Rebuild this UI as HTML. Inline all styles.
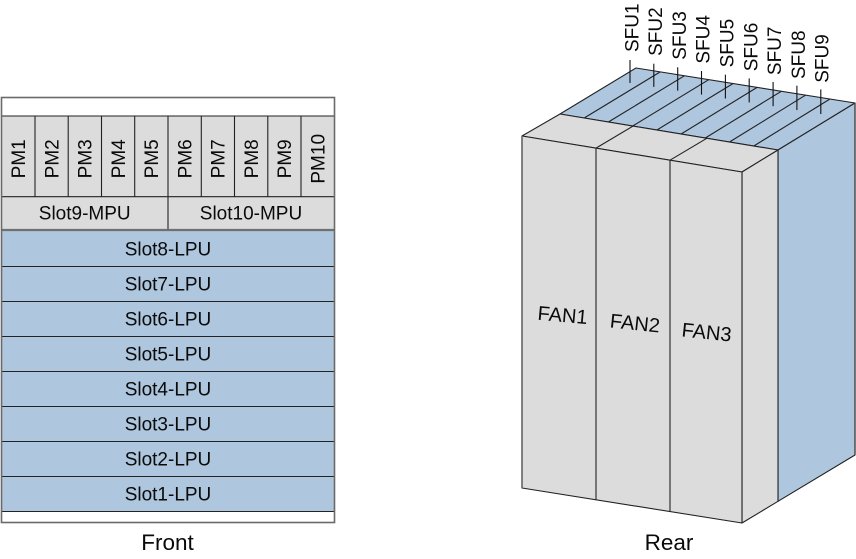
<!DOCTYPE html>
<html>
<head>
<meta charset="utf-8">
<style>
html,body{margin:0;padding:0;background:#fff;}
svg{display:block;}
text{font-family:"Liberation Sans",Arial,sans-serif;fill:#0a0a0a;}
</style>
</head>
<body>
<svg width="856" height="559" viewBox="0 0 856 559" xmlns="http://www.w3.org/2000/svg">
  <!-- ============ FRONT ============ -->
  <rect x="1.5" y="97.5" width="333" height="425" fill="#ffffff"/>
  <rect x="1.5" y="116" width="333" height="114" fill="#dcdcdc"/>
  <rect x="1.5" y="231" width="333" height="280" fill="#aec6de"/>
  <g stroke="#222" stroke-width="1.1" fill="none">
    <line x1="1.5" y1="116" x2="334.5" y2="116"/>
    <line x1="1.5" y1="196.7" x2="334.5" y2="196.7"/>
    <line x1="1.5" y1="266.5" x2="334.5" y2="266.5"/>
    <line x1="1.5" y1="301.5" x2="334.5" y2="301.5"/>
    <line x1="1.5" y1="336.5" x2="334.5" y2="336.5"/>
    <line x1="1.5" y1="371.5" x2="334.5" y2="371.5"/>
    <line x1="1.5" y1="406.5" x2="334.5" y2="406.5"/>
    <line x1="1.5" y1="441.5" x2="334.5" y2="441.5"/>
    <line x1="1.5" y1="476.5" x2="334.5" y2="476.5"/>
    <line x1="1.5" y1="511.5" x2="334.5" y2="511.5"/>
    <line x1="35" y1="116" x2="35" y2="196.7"/>
    <line x1="68.2" y1="116" x2="68.2" y2="196.7"/>
    <line x1="101.5" y1="116" x2="101.5" y2="196.7"/>
    <line x1="134.7" y1="116" x2="134.7" y2="196.7"/>
    <line x1="168" y1="116" x2="168" y2="230"/>
    <line x1="201.3" y1="116" x2="201.3" y2="196.7"/>
    <line x1="234.5" y1="116" x2="234.5" y2="196.7"/>
    <line x1="267.8" y1="116" x2="267.8" y2="196.7"/>
    <line x1="301" y1="116" x2="301" y2="196.7"/>
  </g>
  <line x1="1.5" y1="230" x2="334.5" y2="230" stroke="#707070" stroke-width="2.2"/>
  <rect x="1.5" y="97.5" width="333" height="425" fill="none" stroke="#6a6a6a" stroke-width="1.6"/>

  <!-- PM labels -->
  <g font-size="19" text-anchor="middle">
    <text transform="translate(25.1,158.8) rotate(-90)">PM1</text>
    <text transform="translate(58.4,158.8) rotate(-90)">PM2</text>
    <text transform="translate(91.6,158.8) rotate(-90)">PM3</text>
    <text transform="translate(124.9,158.8) rotate(-90)">PM4</text>
    <text transform="translate(158.1,158.8) rotate(-90)">PM5</text>
    <text transform="translate(191.4,158.8) rotate(-90)">PM6</text>
    <text transform="translate(224.7,158.8) rotate(-90)">PM7</text>
    <text transform="translate(257.9,158.8) rotate(-90)">PM8</text>
    <text transform="translate(291.2,158.8) rotate(-90)">PM9</text>
    <text transform="translate(324.4,158.8) rotate(-90)">PM10</text>
  </g>
  <g font-size="19" text-anchor="middle">
    <text x="84.7" y="219.5">Slot9-MPU</text>
    <text x="251" y="219.5">Slot10-MPU</text>
    <text x="168" y="255.3">Slot8-LPU</text>
    <text x="168" y="290.3">Slot7-LPU</text>
    <text x="168" y="325.3">Slot6-LPU</text>
    <text x="168" y="360.3">Slot5-LPU</text>
    <text x="168" y="395.3">Slot4-LPU</text>
    <text x="168" y="430.3">Slot3-LPU</text>
    <text x="168" y="465.3">Slot2-LPU</text>
    <text x="168" y="500.3">Slot1-LPU</text>
  </g>
  <text x="167.5" y="550" font-size="22.5" text-anchor="middle">Front</text>

  <!-- ============ REAR ============ -->
  <g stroke="#222" stroke-width="1.1" stroke-linejoin="round">
    <polygon points="560,114 636,68 855,103 778,150" fill="#aec6de"/>
    <polygon points="778,150 855,103 855,455 778,501.3" fill="#aec6de"/>
    <polygon points="522,136 560,114 778,150 742,172" fill="#dcdcdc"/>
    <polygon points="742,172 778,150 778,501.3 742,523" fill="#dcdcdc"/>
    <polygon points="522,136 742,172 742,523 522,488" fill="#dcdcdc"/>
  </g>
  <g stroke="#222" stroke-width="1.1" fill="none">
    <line x1="584.2" y1="118" x2="660.2" y2="71.9"/>
    <line x1="608.4" y1="122" x2="684.4" y2="75.8"/>
    <line x1="632.7" y1="126" x2="708.7" y2="79.7"/>
    <line x1="656.9" y1="130" x2="732.9" y2="83.6"/>
    <line x1="681.1" y1="134" x2="757.1" y2="87.4"/>
    <line x1="705.3" y1="138" x2="781.3" y2="91.3"/>
    <line x1="729.5" y1="142" x2="805.5" y2="95.2"/>
    <line x1="753.8" y1="146" x2="829.8" y2="99.1"/>
    <line x1="596" y1="148.1" x2="633" y2="126.1"/>
    <line x1="670" y1="160.2" x2="707" y2="138.2"/>
    <line x1="596" y1="148.1" x2="596" y2="499.8"/>
    <line x1="670" y1="160.2" x2="670" y2="511.5"/>
  </g>
  <line x1="522" y1="136" x2="522" y2="488" stroke="#6a6a6a" stroke-width="1.6"/>
  <line x1="855" y1="103" x2="855" y2="455" stroke="#4a4a4a" stroke-width="1.4"/>

  <!-- SFU leaders -->
  <g stroke="#111" stroke-width="1.1">
    <line x1="630" y1="60" x2="630" y2="83"/>
    <line x1="653.8" y1="63.7" x2="653.8" y2="86.9"/>
    <line x1="677.7" y1="67.3" x2="677.7" y2="90.7"/>
    <line x1="701.5" y1="71" x2="701.5" y2="94.6"/>
    <line x1="725.4" y1="74.7" x2="725.4" y2="98.5"/>
    <line x1="749.2" y1="78.4" x2="749.2" y2="102.4"/>
    <line x1="773.1" y1="82" x2="773.1" y2="106.2"/>
    <line x1="796.9" y1="85.7" x2="796.9" y2="110.1"/>
    <line x1="820.8" y1="89.4" x2="820.8" y2="114"/>
  </g>
  <!-- SFU labels -->
  <g font-size="19" text-anchor="start">
    <text transform="translate(638.3,52) rotate(-90)">SFU1</text>
    <text transform="translate(662.1,55.9) rotate(-90)">SFU2</text>
    <text transform="translate(685.9,59.7) rotate(-90)">SFU3</text>
    <text transform="translate(709.7,63.6) rotate(-90)">SFU4</text>
    <text transform="translate(733.5,67.4) rotate(-90)">SFU5</text>
    <text transform="translate(757.3,71.3) rotate(-90)">SFU6</text>
    <text transform="translate(781.1,75.1) rotate(-90)">SFU7</text>
    <text transform="translate(804.9,79) rotate(-90)">SFU8</text>
    <text transform="translate(828.7,82.8) rotate(-90)">SFU9</text>
  </g>
  <!-- FAN labels -->
  <g font-size="20" text-anchor="middle">
    <text transform="translate(562.7,315) rotate(5)" y="7">FAN1</text>
    <text transform="translate(635,323) rotate(6)" y="7">FAN2</text>
    <text transform="translate(706.7,332) rotate(6)" y="7">FAN3</text>
  </g>
  <text x="669" y="550" font-size="22.5" text-anchor="middle">Rear</text>
</svg>
</body>
</html>
